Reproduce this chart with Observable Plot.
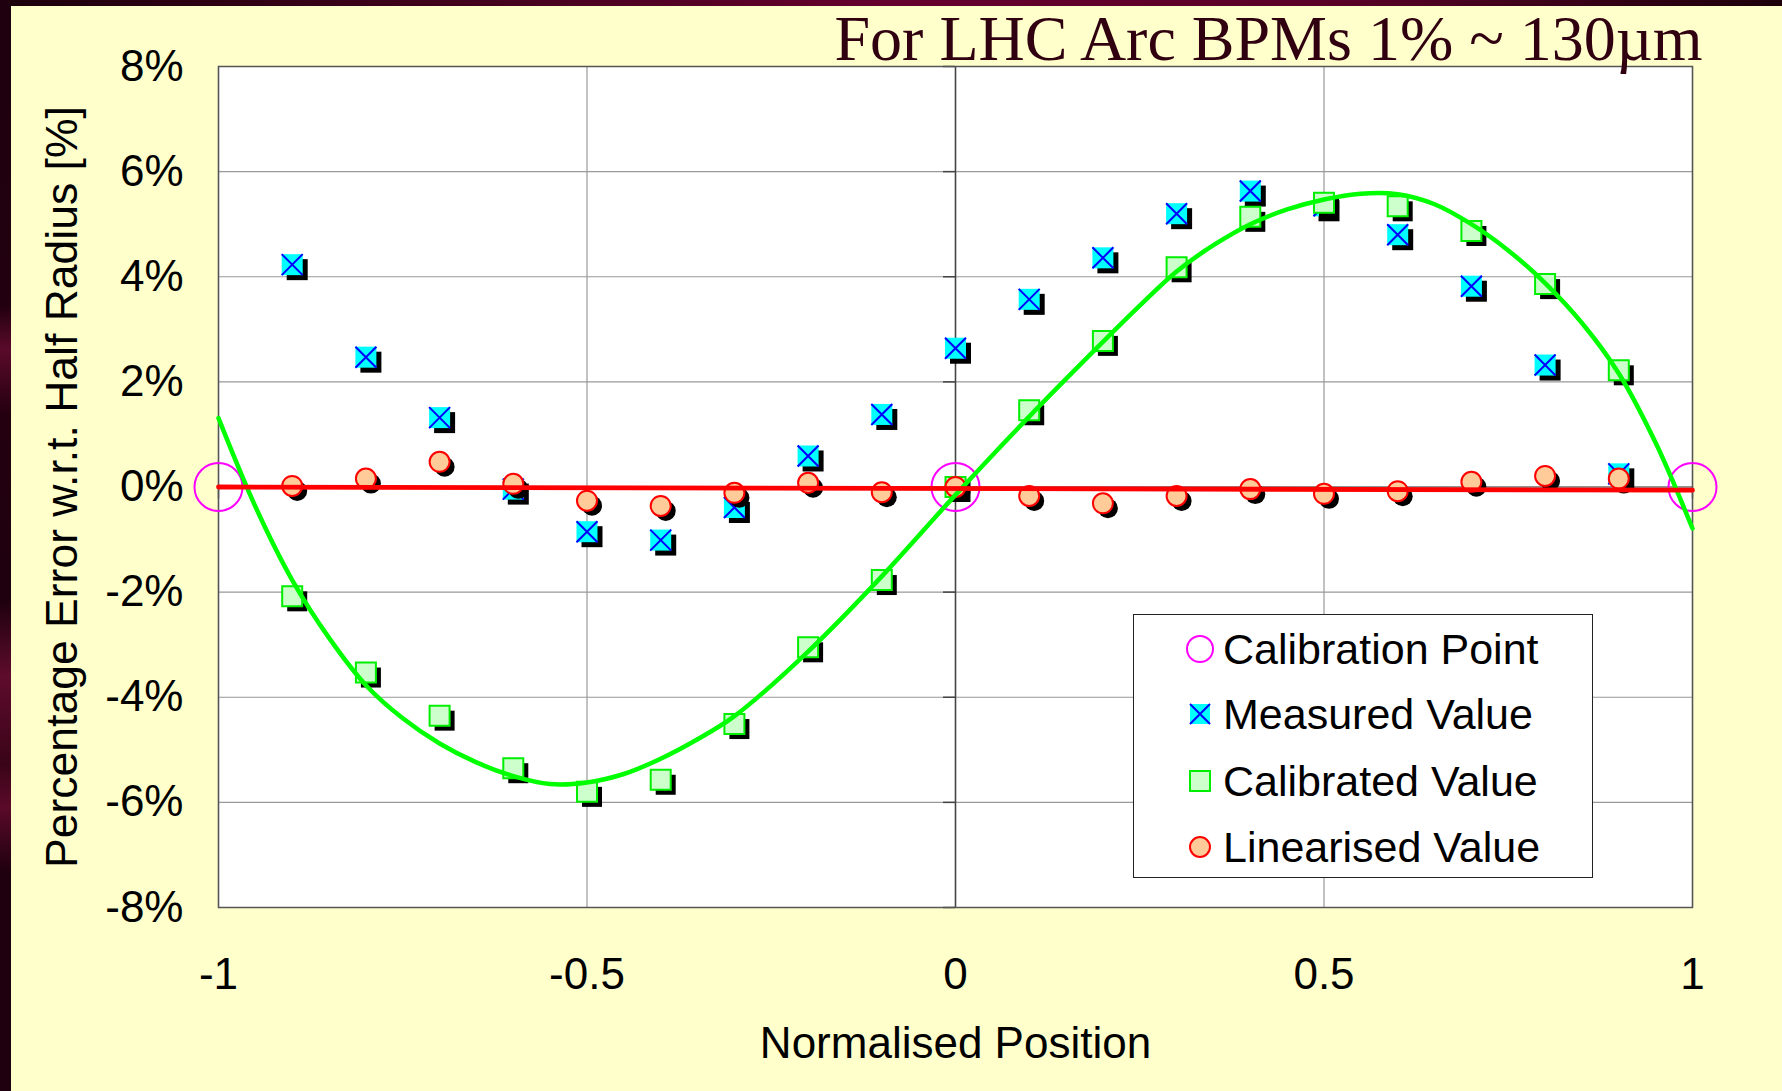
<!DOCTYPE html>
<html>
<head>
<meta charset="utf-8">
<script src="https://cdn.jsdelivr.net/npm/d3@7"></script>
<script src="https://cdn.jsdelivr.net/npm/@observablehq/plot@0.6"></script>
<style>
  html, body { margin: 0; padding: 0; background: #FFFFCC; }
  #page { position: relative; width: 1782px; height: 1091px; background: #FFFFCC; overflow: hidden; font-family: "Liberation Sans", Arial, sans-serif; }
  #page > svg { position: absolute; left: 0; top: 0; }
  .leftstrip { position: absolute; left: 0; top: 0; width: 11px; height: 1091px;
    background: linear-gradient(to bottom, #1e000e 0%, #22000f 28%, #5a0a2a 32%, #24000f 38%, #1e000e 55%, #5e0c2c 62%, #3a0418 70%, #5a0a28 74%, #1e000e 80%, #1e000e 100%); z-index: 2; }
  .topstrip { position: absolute; left: 0; top: 0; width: 1782px; height: 6px;
    background: linear-gradient(to right, #1c000c 0%, #3a0019 20%, #66002e 50%, #5a0028 75%, #1c000a 100%); z-index: 2; }
  #legend { position: absolute; left: 1133px; top: 614px; width: 460px; height: 264px; box-sizing: border-box;
    border: 1.5px solid #222; background: #fff; z-index: 3; }
  .row { position: absolute; left: 0; height: 66px; display: flex; align-items: center; }
  .row svg { display: block; margin-left: 51px; width: 30px; height: 30px; flex: none; }
  .row span { margin-left: 8px; font-size: 43px; line-height: 1; color: #000; white-space: nowrap; }
</style>
</head>
<body>
<div id="page">
  <div class="topstrip"></div>
  <div class="leftstrip"></div>
  <div id="legend">
    <div class="row" style="top:1px"><svg viewBox="-15 -15 30 30"><circle r="13" fill="none" stroke="#FF00FF" stroke-width="2"/></svg><span>Calibration Point</span></div>
    <div class="row" style="top:66px"><svg viewBox="-15 -15 30 30"><rect x="-10" y="-10" width="20" height="20" fill="#00FFFF"/><path d="M-10,-10L10,10M-10,10L10,-10" stroke="#0000FF" stroke-width="2"/></svg><span>Measured Value</span></div>
    <div class="row" style="top:133px"><svg viewBox="-15 -15 30 30"><rect x="-10" y="-10" width="20" height="20" fill="#CCFFCC" stroke="#00EE00" stroke-width="2"/></svg><span>Calibrated Value</span></div>
    <div class="row" style="top:199px"><svg viewBox="-15 -15 30 30"><circle r="10" fill="#FFCC99" stroke="#FF0000" stroke-width="2"/></svg><span>Linearised Value</span></div>
  </div>
</div>
<script>
// ---- data ----
const positions = [-0.9, -0.8, -0.7, -0.6, -0.5, -0.4, -0.3, -0.2, -0.1, 0, 0.1, 0.2, 0.3, 0.4, 0.5, 0.6, 0.7, 0.8, 0.9];
const measured = [4.23, 2.47, 1.32, -0.04, -0.85, -1.01, -0.39, 0.59, 1.38, 2.64, 3.57, 4.36, 5.20, 5.63, 5.35, 4.80, 3.82, 2.32, 0.25];
const calibrated = [-2.08, -3.53, -4.35, -5.35, -5.80, -5.57, -4.51, -3.05, -1.77, 0.0, 1.46, 2.78, 4.18, 5.14, 5.41, 5.34, 4.87, 3.86, 2.22];
const linearised = [0.02, 0.16, 0.48, 0.06, -0.26, -0.36, -0.11, 0.08, -0.10, 0.0, -0.17, -0.31, -0.17, -0.04, -0.13, -0.08, 0.10, 0.21, 0.16];
const calibX = [-1, 0, 1];
const calibY = [0, 0, 0];
const fitX = [-1, -0.95, -0.9, -0.85, -0.8, -0.75, -0.7, -0.65, -0.6, -0.55, -0.5, -0.45, -0.4, -0.35, -0.3, -0.2, -0.1, 0, 0.1, 0.2, 0.25, 0.3, 0.35, 0.4, 0.45, 0.5, 0.55, 0.6, 0.65, 0.7, 0.75, 0.8, 0.85, 0.9, 0.95, 1];
const fitY = [1.31, -0.37, -1.77, -2.87, -3.77, -4.40, -4.88, -5.24, -5.50, -5.65, -5.62, -5.46, -5.17, -4.80, -4.36, -3.13, -1.70, -0.15, 1.34, 2.76, 3.45, 4.10, 4.60, 5.00, 5.28, 5.47, 5.58, 5.57, 5.38, 5.00, 4.50, 3.88, 3.12, 2.16, 0.84, -0.79];
const trendX = [-1, 1];
const trendY = [0.0, -0.06];
const xTicks = [-1, -0.5, 0, 0.5, 1];
const yTicks = [-8, -6, -4, -2, 0, 2, 4, 6, 8];
const title = "For LHC Arc BPMs 1% ~ 130µm";
const xLabel = "Normalised Position";
const yLabel = "Percentage Error w.r.t. Half Radius [%]";

// ---- tables ----
const rows = positions.map((x, i) => ({x, measured: measured[i], calibrated: calibrated[i], linearised: linearised[i]}));
const calib = calibX.map((x, i) => ({x, y: calibY[i]}));
const fit = fitX.map((x, i) => ({x, y: fitY[i]}));
const trend = trendX.map((x, i) => ({x, y: trendY[i]}));

// custom symbols: half-side = r
const squareSym = {draw(ctx, size) { const h = Math.sqrt(size / Math.PI); ctx.moveTo(-h, -h); ctx.lineTo(h, -h); ctx.lineTo(h, h); ctx.lineTo(-h, h); ctx.closePath(); }};
const crossSym = {draw(ctx, size) { const h = Math.sqrt(size / Math.PI); ctx.moveTo(-h, -h); ctx.lineTo(h, h); ctx.moveTo(-h, h); ctx.lineTo(h, -h); }};

const chart = Plot.plot({
  width: 1782,
  height: 1091,
  marginLeft: 218,
  marginRight: 90,
  marginTop: 66,
  marginBottom: 184,
  x: {domain: [-1, 1]},
  y: {domain: [-8, 8]},
  style: {background: "transparent", fontFamily: "'Liberation Sans', Arial, sans-serif", fontSize: "44px", color: "#000", overflow: "visible"},
  marks: [
    Plot.frame({fill: "white"}),
    Plot.gridX(xTicks, {stroke: "#999", strokeOpacity: 1, strokeWidth: 1.2}),
    Plot.gridY(yTicks, {stroke: "#999", strokeOpacity: 1, strokeWidth: 1.2}),
    Plot.ruleY([0], {stroke: "#808080", strokeWidth: 1.5}),
    Plot.ruleX([0], {stroke: "#444", strokeWidth: 1.5}),
    Plot.ruleY(yTicks, {y: d => d, x1: 0, x2: 0, insetLeft: -12, stroke: "#444", strokeWidth: 1.5}),
    Plot.ruleX(xTicks, {x: d => d, y1: 0, y2: 0, insetBottom: -12, stroke: "#666", strokeWidth: 1.5}),
    Plot.frame({stroke: "#555", strokeWidth: 1.5}),
    Plot.axisX({ticks: xTicks, tickSize: 0, tickPadding: 50, tickFormat: d => String(d), label: null, fontSize: 44}),
    Plot.axisY({ticks: yTicks, tickSize: 0, tickPadding: 35, tickFormat: d => d + "%", label: null, fontSize: 44}),
    Plot.dot(calib, {x: "x", y: "y", r: 24, stroke: "#FF00FF", strokeWidth: 2, fill: "none"}),
    Plot.dot(rows, {x: "x", y: "measured", r: 10.5, symbol: squareSym, fill: "black", stroke: "none", dx: 5, dy: 5}),
    Plot.dot(rows, {x: "x", y: "measured", r: 10.5, symbol: squareSym, fill: "#00FFFF", stroke: "none"}),
    Plot.dot(rows, {x: "x", y: "measured", r: 10.5, symbol: crossSym, fill: "none", stroke: "#0000FF", strokeWidth: 2}),
    Plot.dot(rows, {x: "x", y: "calibrated", r: 10, symbol: squareSym, fill: "black", stroke: "none", dx: 5, dy: 5}),
    Plot.dot(rows, {x: "x", y: "calibrated", r: 10, symbol: squareSym, fill: "#CCFFCC", stroke: "#00EE00", strokeWidth: 2}),
    Plot.dot(rows, {x: "x", y: "linearised", r: 10, fill: "black", stroke: "none", dx: 5, dy: 5}),
    Plot.dot(rows, {x: "x", y: "linearised", r: 10, fill: "#FFCC99", stroke: "#FF0000", strokeWidth: 2}),
    Plot.line(fit, {x: "x", y: "y", curve: "catmull-rom", stroke: "#00FF00", strokeWidth: 4.5}),
    Plot.line(trend, {x: "x", y: "y", stroke: "#FF0000", strokeWidth: 4.8}),
    Plot.text([yLabel], {text: d => d, frameAnchor: "left", textAnchor: "middle", rotate: -90, dx: -156, lineAnchor: "middle", fontSize: 44.5, fill: "#000"}),
    Plot.text([xLabel], {text: d => d, frameAnchor: "bottom", textAnchor: "middle", dy: 136, lineAnchor: "middle", fontSize: 44, fill: "#000"}),
    Plot.text([title], {text: d => d, frameAnchor: "top-right", textAnchor: "end", lineAnchor: "bottom", dx: 10, dy: -7, fontFamily: "'Liberation Serif', 'Times New Roman', serif", fontSize: 64, fill: "#300010"})
  ]
});
document.getElementById("page").appendChild(chart);
</script>
</body>
</html>
